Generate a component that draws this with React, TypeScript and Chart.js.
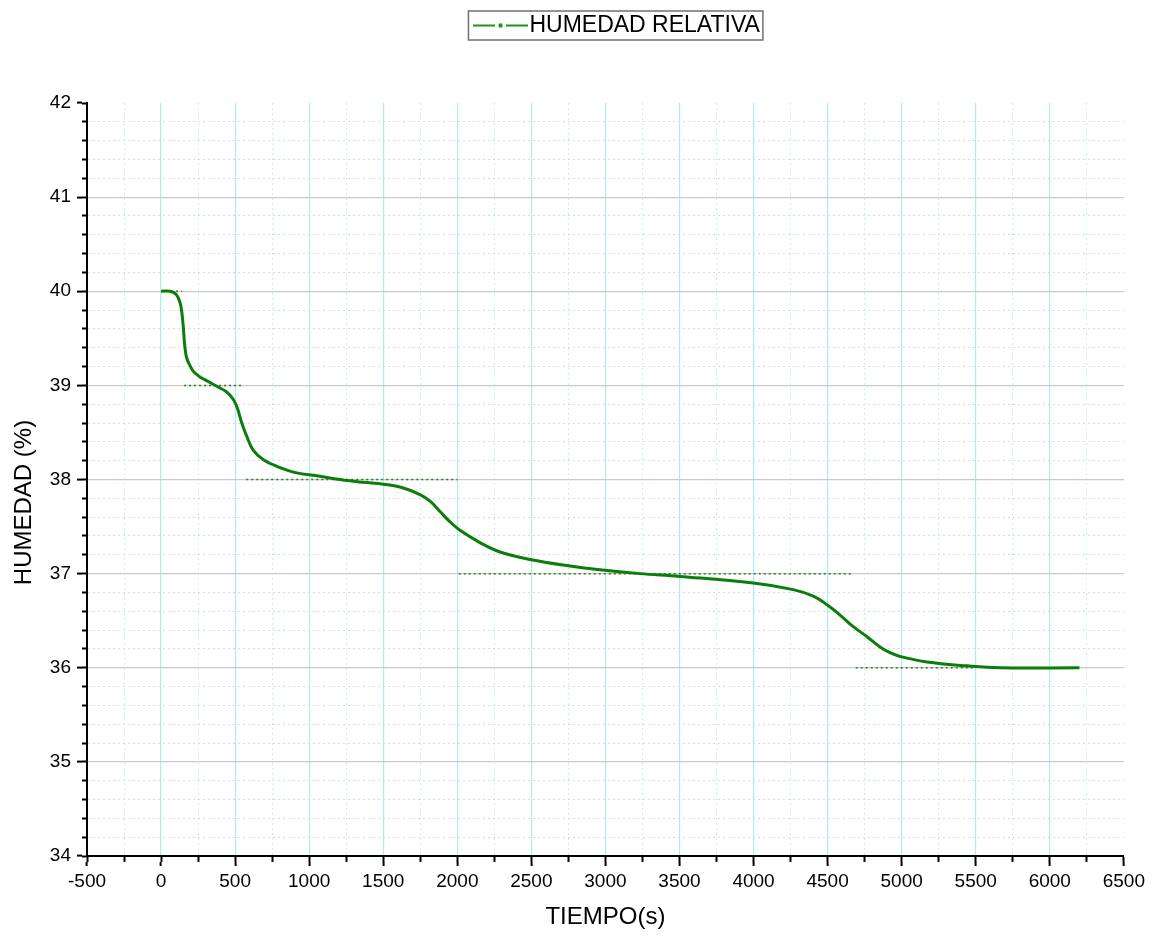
import React, { useEffect, useRef } from 'react';
import { Chart, registerables } from 'chart.js';

Chart.register(...registerables);

// ---- data ----
const timeS = [0, 60, 100, 128, 142, 151, 157, 163, 170, 180, 192, 205, 220, 263, 308, 376, 443, 488, 515, 545, 578, 623, 691, 781, 916, 1051, 1208, 1366, 1501, 1636, 1748, 1816, 1883, 1951, 2018, 2153, 2288, 2491, 2761, 2963, 3233, 3503, 3998, 4268, 4403, 4496, 4584, 4671, 4766, 4854, 4921, 4989, 5171, 5441, 5664, 6200];
const humidity = [40.0, 40.0, 39.97, 39.88, 39.75, 39.6, 39.47, 39.38, 39.31, 39.26, 39.22, 39.18, 39.145, 39.09, 39.05, 38.99, 38.93, 38.85, 38.76, 38.6, 38.46, 38.31, 38.21, 38.14, 38.07, 38.04, 38.0, 37.97, 37.95, 37.91, 37.84, 37.77, 37.66, 37.55, 37.46, 37.33, 37.23, 37.15, 37.08, 37.04, 37.0, 36.97, 36.9, 36.83, 36.76, 36.67, 36.56, 36.44, 36.33, 36.22, 36.16, 36.12, 36.06, 36.02, 36.0, 36.0];

const stepLevels = [40, 39, 38, 37, 36];
const stepStarts = [0, 155, 575, 2010, 4690];
const stepEnds = [140, 560, 2000, 4660, 5500];

const xMin = -500;
const xMax = 6500;
const xMajorStep = 500;
const xMinorStep = 250;
const yMin = 34;
const yMax = 42;
const yMajorStep = 1;
const yMinorStep = 0.2;

const seriesLabel = 'HUMEDAD RELATIVA';
const xTitle = 'TIEMPO(s)';
const yTitle = 'HUMEDAD (%)';

// ---- styles ----
const LINE_COLOR = '#0b7d0b';
const STEP_COLOR = 'rgba(25,115,25,0.9)';
const FONT = '"Liberation Sans", Arial, Helvetica, sans-serif';

const isMultiple = (v: number, step: number) => Math.abs(v / step - Math.round(v / step)) < 1e-6;
const isEdge = (v: number, lo: number, hi: number) => Math.abs(v - lo) < 1e-6 || Math.abs(v - hi) < 1e-6;

function makeLegendSymbol(color: string) {
  const c = document.createElement('canvas');
  c.width = 55;
  c.height = 10;
  const g = c.getContext('2d')!;
  g.strokeStyle = color;
  g.lineWidth = 2;
  g.beginPath();
  g.moveTo(0, 5);
  g.lineTo(22, 5);
  g.moveTo(33, 5);
  g.lineTo(55, 5);
  g.stroke();
  g.fillStyle = color;
  g.beginPath();
  g.arc(27.5, 5, 2.2, 0, Math.PI * 2);
  g.fill();
  return c;
}

const legendFrame = {
  id: 'legendFrame',
  beforeLayout(chart: any) {
    const lg = chart.legend;
    if (lg && !lg._patched) {
      const orig = lg.fit;
      lg.fit = function () {
        orig.call(this);
        this.height = 95;
      };
      lg._patched = true;
    }
  },
  afterLayout(chart: any) {
    const lg = chart.legend;
    if (lg) {
      lg.left += 16;
      lg.right += 16;
    }
    const ys = chart.scales.y;
    if (ys && !ys._titlePatched) {
      const origTitle = ys.drawTitle;
      ys.drawTitle = function () {
        const ctx = this.ctx;
        ctx.save();
        ctx.translate(0, 23);
        origTitle.call(this);
        ctx.restore();
      };
      ys._titlePatched = true;
    }
  },
  afterDraw(chart: any) {
    const lg = chart.legend;
    const hb = lg && lg.legendHitBoxes && lg.legendHitBoxes[0];
    if (!hb) return;
    const ctx = chart.ctx;
    ctx.save();
    ctx.strokeStyle = '#707070';
    ctx.lineWidth = 1.5;
    const cy = hb.top + hb.height / 2;
    ctx.strokeRect(hb.left - 14.5, cy - 14.5, hb.width + 17.5, 29);
    ctx.restore();
  },
};

export default function App() {
  const ref = useRef<HTMLCanvasElement | null>(null);

  useEffect(() => {
    if (!ref.current) return;
    const mainData = timeS.map((x, i) => ({ x, y: humidity[i] }));
    const stepData: any[] = [];
    stepLevels.forEach((lvl, i) => {
      stepData.push({ x: stepStarts[i], y: lvl });
      stepData.push({ x: stepEnds[i], y: lvl });
      if (i < stepLevels.length - 1) stepData.push({ x: (stepEnds[i] + stepStarts[i + 1]) / 2, y: null });
    });

    const symbol = makeLegendSymbol('#159a15');

    const chart = new Chart(ref.current, {
      type: 'line',
      data: {
        datasets: [
          {
            label: seriesLabel,
            data: mainData,
            borderColor: LINE_COLOR,
            backgroundColor: LINE_COLOR,
            borderWidth: 3,
            pointRadius: 0,
            pointHoverRadius: 0,
            tension: 0.4,
            fill: false,
          },
          {
            label: 'niveles',
            data: stepData,
            borderColor: STEP_COLOR,
            borderWidth: 1.5,
            borderDash: [2, 3],
            pointRadius: 0,
            spanGaps: false,
            tension: 0,
            fill: false,
          },
        ],
      } as any,
      options: {
        animation: false,
        responsive: false,
        maintainAspectRatio: false,
        layout: { padding: { left: 0, right: 25, top: 0, bottom: 0 } },
        font: { family: FONT },
        plugins: {
          tooltip: { enabled: false },
          legend: {
            display: true,
            position: 'top',
            align: 'center',
            fullSize: false,
            labels: {
              usePointStyle: true,
              pointStyle: symbol as any,
              pointStyleWidth: 35,
              padding: 6,
              color: '#000',
              font: { family: FONT, size: 23 },
              filter: (item: any) => item.datasetIndex === 0,
            },
          },
        },
        scales: {
          x: {
            type: 'linear',
            position: 'bottom',
            weight: 1,
            min: xMin,
            max: xMax,
            ticks: {
              stepSize: xMajorStep,
              autoSkip: false,
              maxRotation: 0,
              padding: 4,
              color: '#000',
              font: { family: FONT, size: 19 },
              callback: (v: any) => String(v),
            },
            grid: {
              color: (c: any) => (c.tick && isEdge(c.tick.value, xMin, xMax) ? 'rgba(0,0,0,0)' : '#a8f0f0'),
              lineWidth: 1.2,
              drawTicks: true,
              tickLength: 4,
              tickColor: '#000',
              tickWidth: 2,
            },
            border: { display: false },
            title: {
              display: true,
              text: xTitle,
              color: '#000',
              font: { family: FONT, size: 24, lineHeight: 1 },
              padding: { top: 0, bottom: 0 },
            },
            afterFit: (s: any) => {
              s.height = 67;
            },
          },
          xMinor: {
            type: 'linear',
            position: 'bottom',
            weight: 0,
            min: xMin,
            max: xMax,
            ticks: { stepSize: xMinorStep, display: false, autoSkip: false },
            grid: {
              color: (c: any) =>
                c.tick && (isMultiple(c.tick.value, xMajorStep) || isEdge(c.tick.value, xMin, xMax)) ? 'rgba(0,0,0,0)' : '#c0f2f2',
              lineWidth: 1,
              drawTicks: true,
              tickLength: 6,
              tickColor: '#000',
              tickWidth: 2,
            },
            border: { display: true, color: '#000', width: 2, dash: [2, 3] },
            afterFit: (s: any) => {
              s.height = 6;
            },
          },
          y: {
            type: 'linear',
            position: 'left',
            weight: 1,
            min: yMin,
            max: yMax,
            ticks: {
              stepSize: yMajorStep,
              padding: 6,
              color: '#000',
              font: { family: FONT, size: 19 },
              callback: (v: any) => String(v),
            },
            grid: {
              color: (c: any) => (c.tick && isEdge(c.tick.value, yMin, yMax) ? 'rgba(0,0,0,0)' : '#cacaca'),
              lineWidth: 1.2,
              drawTicks: true,
              tickLength: 5,
              tickColor: '#000',
              tickWidth: 2,
            },
            border: { display: false },
            title: {
              display: true,
              text: yTitle,
              color: '#000',
              font: { family: FONT, size: 24, lineHeight: 1 },
              padding: { top: 4, bottom: 0 },
            },
            afterFit: (s: any) => {
              s.width = 74;
            },
          },
          yMinor: {
            type: 'linear',
            position: 'left',
            weight: 0,
            min: yMin,
            max: yMax,
            ticks: { stepSize: yMinorStep, display: false, autoSkip: false },
            grid: {
              color: (c: any) =>
                c.tick && (isMultiple(c.tick.value, yMajorStep) || isEdge(c.tick.value, yMin, yMax)) ? 'rgba(0,0,0,0)' : '#d9d9d9',
              lineWidth: 1,
              drawTicks: true,
              tickLength: 5,
              tickColor: '#000',
              tickWidth: 2,
            },
            border: { display: true, color: '#000', width: 2, dash: [2, 3] },
            afterFit: (s: any) => {
              s.width = 5;
            },
          },
        },
      } as any,
      plugins: [legendFrame],
    });

    return () => chart.destroy();
  }, []);

  return (
    <div style={{ width: 1141, height: 921 }}>
      <canvas ref={ref} width={1141} height={921} style={{ display: 'block' }} />
    </div>
  );
}
